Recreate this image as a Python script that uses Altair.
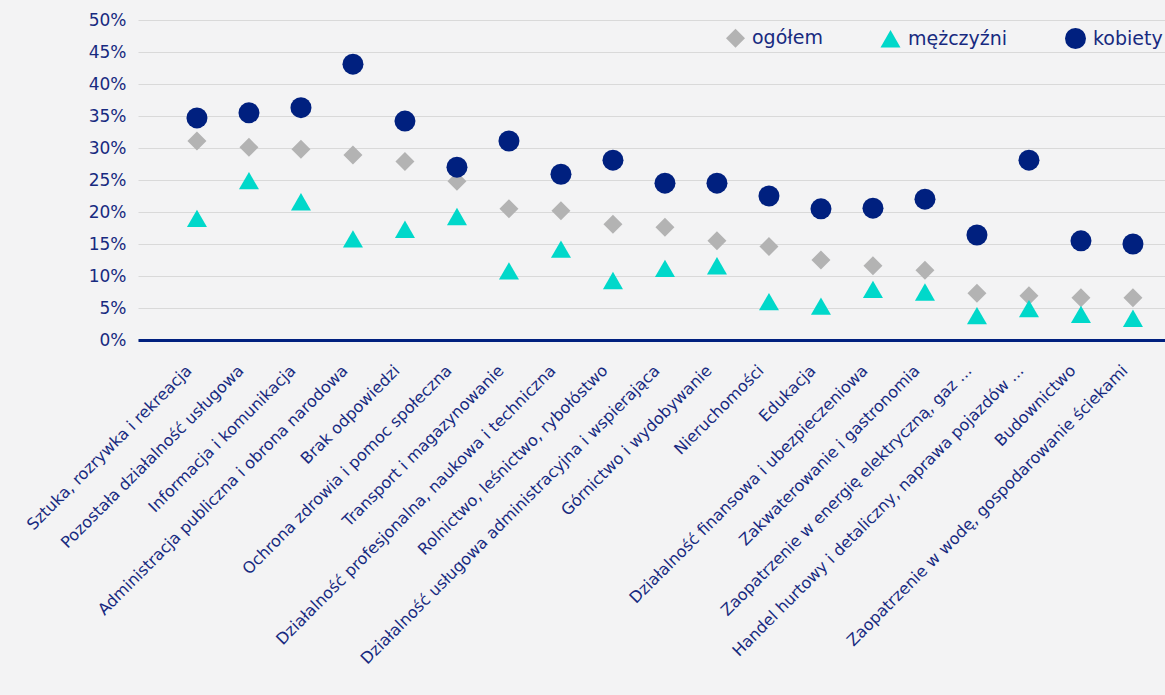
import altair as alt
import pandas as pd

# Branches, in display order (sorted by the overall share)
categories = [
    "Sztuka, rozrywka i rekreacja",
    "Pozostała działalność usługowa",
    "Informacja i komunikacja",
    "Administracja publiczna i obrona narodowa",
    "Brak odpowiedzi",
    "Ochrona zdrowia i pomoc społeczna",
    "Transport i magazynowanie",
    "Działalność profesjonalna, naukowa i techniczna",
    "Rolnictwo, leśnictwo, rybołóstwo",
    "Działalność usługowa administracyjna i wspierająca",
    "Górnictwo i wydobywanie",
    "Nieruchomości",
    "Edukacja",
    "Działalność finansowa i ubezpieczeniowa",
    "Zakwaterowanie i gastronomia",
    "Zaopatrzenie w energię elektryczną, gaz ...",
    "Handel hurtowy i detaliczny, naprawa pojazdów ...",
    "Budownictwo",
    "Zaopatrzenie w wodę, gospodarowanie ściekami",
]

# Shares in percent
ogolem = [31.1, 30.1, 29.8, 28.9, 27.9, 24.8, 20.5, 20.2, 18.1, 17.6,
          15.5, 14.6, 12.5, 11.6, 10.9, 7.3, 6.9, 6.6, 6.6]
mezczyzni = [19.0, 24.9, 21.6, 15.8, 17.3, 19.3, 10.8, 14.2, 9.3, 11.2,
             11.6, 6.0, 5.3, 7.9, 7.5, 3.8, 4.9, 4.0, 3.4]
kobiety = [34.7, 35.5, 36.3, 43.1, 34.2, 27.0, 31.1, 25.9, 28.1, 24.5,
           24.5, 22.5, 20.5, 20.6, 22.0, 16.4, 28.1, 15.5, 15.0]

series = ["ogółem", "mężczyźni", "kobiety"]
y_ticks = [0, 5, 10, 15, 20, 25, 30, 35, 40, 45, 50]

rows = []
for name, vals in zip(series, [ogolem, mezczyzni, kobiety]):
    for cat, val in zip(categories, vals):
        rows.append({"branża": cat, "grupa": name, "udział": val})
df = pd.DataFrame(rows)

NAVY = "#00207f"
TEXT = "#172a80"
GREY = "#b3b3b3"
TURQ = "#00d8ca"
FONT = "DejaVu Sans"

legend = alt.Legend(
    title=None,
    orient="none",
    direction="horizontal",
    legendX=588,
    legendY=8,
    labelFont=FONT,
    labelFontSize=19,
    labelColor=TEXT,
    symbolSize=350,
    symbolStrokeWidth=0,
    labelOffset=7,
    columnPadding=57,
    padding=0,
)

chart = (
    alt.Chart(df)
    .mark_point(filled=True, opacity=1, strokeWidth=0)
    .encode(
        x=alt.X(
            "branża:N",
            sort=categories,
            scale=alt.Scale(padding=0.875, align=0.648),
            axis=alt.Axis(
                title=None,
                labelAngle=-45,
                labelFont=FONT,
                labelFontSize=16,
                labelColor=TEXT,
                labelLimit=500,
                labelPadding=22,
                labelOffset=-14,
                ticks=False,
                grid=False,
                domainColor=NAVY,
                domainWidth=3,
            ),
        ),
        y=alt.Y(
            "udział:Q",
            scale=alt.Scale(domain=[0, 50], nice=False),
            axis=alt.Axis(
                title=None,
                values=y_ticks,
                labelExpr="datum.value + '%'",
                labelFont=FONT,
                labelFontSize=17,
                labelColor=TEXT,
                labelPadding=12,
                ticks=False,
                domain=False,
                grid=True,
                gridColor="#d9d9d9",
                gridWidth=1.2,
            ),
        ),
        color=alt.Color(
            "grupa:N",
            sort=series,
            scale=alt.Scale(domain=series, range=[GREY, TURQ, NAVY]),
            legend=legend,
        ),
        shape=alt.Shape(
            "grupa:N",
            sort=series,
            scale=alt.Scale(domain=series, range=["diamond", "triangle-up", "circle"]),
            legend=legend,
        ),
        size=alt.Size(
            "grupa:N",
            scale=alt.Scale(domain=series, range=[361, 441, 370]),
            legend=None,
        ),
    )
    .properties(
        width=1027,
        height=320,
        autosize="none",
        padding={"left": 138, "top": 20, "right": 0, "bottom": 355},
    )
    .configure(background="#f3f3f4")
    .configure_view(stroke=None)
)

chart.save("out.html", embed_options={"renderer": "svg", "actions": False})
